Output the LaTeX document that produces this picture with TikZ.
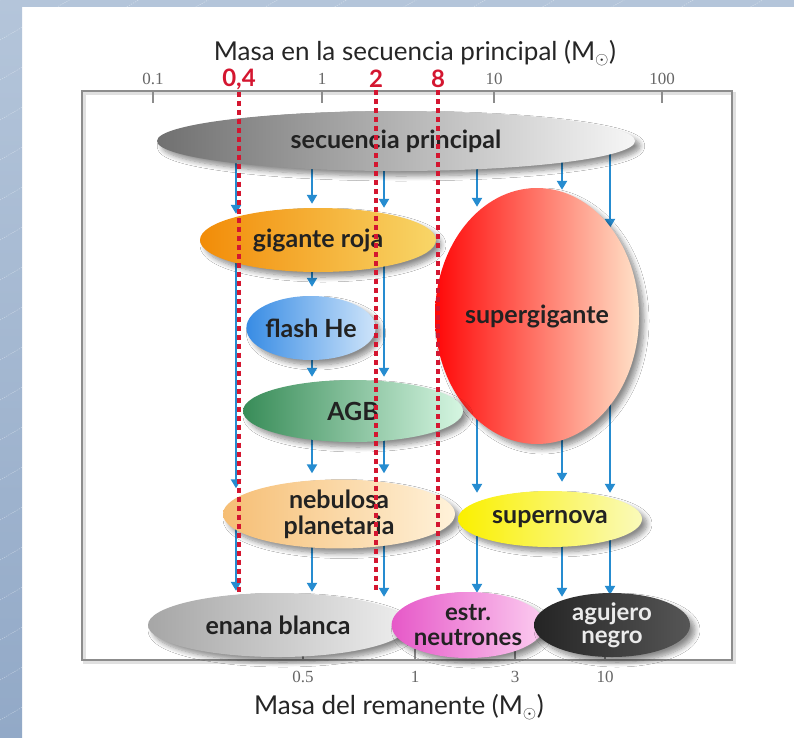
\documentclass[tikz,border=0pt]{standalone}
\usepackage{fontspec}
\setmainfont{Lato}
\newfontfamily\tickfont{Liberation Serif}
\usetikzlibrary{shapes.geometric,arrows.meta,calc,shadows.blur}
\pgfdeclarelayer{back}
\pgfsetlayers{back,main}
\definecolor{bgA}{RGB}{180,197,218}
\definecolor{bgB}{RGB}{146,169,199}
\definecolor{flowblue}{RGB}{38,140,208}
\definecolor{limred}{RGB}{212,22,48}
\definecolor{framegray}{RGB}{140,140,140}
\definecolor{txt}{RGB}{34,34,34}
\definecolor{spA}{RGB}{112,112,112}\definecolor{spB}{RGB}{246,246,246}
\definecolor{grA}{RGB}{242,140,8}\definecolor{grB}{RGB}{248,214,104}
\definecolor{sgA}{RGB}{255,8,8}\definecolor{sgB}{RGB}{255,226,200}
\definecolor{fhA}{RGB}{56,140,228}\definecolor{fhB}{RGB}{206,228,250}
\definecolor{agA}{RGB}{56,140,88}\definecolor{agB}{RGB}{214,246,226}
\definecolor{npA}{RGB}{246,190,116}\definecolor{npB}{RGB}{255,242,218}
\definecolor{snA}{RGB}{250,240,0}\definecolor{snB}{RGB}{250,250,186}
\definecolor{ebA}{RGB}{166,166,166}\definecolor{ebB}{RGB}{238,238,238}
\definecolor{nsA}{RGB}{230,88,200}\definecolor{nsB}{RGB}{252,204,240}
\definecolor{bhA}{RGB}{36,36,36}\definecolor{bhB}{RGB}{86,86,86}
\begin{document}
\begin{tikzpicture}[x=1pt,y=-1pt,
  phase/.style={ellipse, inner sep=0pt, align=center, text=txt,
    font=\fontsize{25}{26}\selectfont\bfseries,
    blur shadow={shadow xshift=5pt, shadow yshift=-5pt, shadow blur steps=8, shadow blur radius=5pt, shadow opacity=45}},
  flow/.style={draw=flowblue, line width=2.4pt, -{Triangle[width=10pt,length=9pt]}},
  limit/.style={draw=limred, line width=3.2pt, dash pattern=on 5pt off 4pt},
  ticklab/.style={font=\tickfont\fontsize{17}{19}\selectfont, text=black!60, inner sep=1pt},
  redlab/.style={font=\fontsize{24}{26}\selectfont\bfseries, text=limred, inner sep=0pt},
  axtitle/.style={font=\fontsize{26}{28}\selectfont, text=black!85, inner sep=0pt},
  tick/.style={draw=framegray, line width=1.6pt}]
\useasboundingbox (0,0) rectangle (794,737);

% ---------- stages ----------
\node[phase, minimum width=478pt, minimum height=60pt, left color=spA, right color=spB] (sp) at (396,141) {secuencia principal};
\node[phase, minimum width=236pt, minimum height=64pt, left color=grA, right color=grB] (gr) at (318,240) {gigante roja};
\node[phase, minimum width=204pt, minimum height=256pt, left color=sgA, right color=sgB] (sg) at (537,316) {supergigante};
\node[phase, minimum width=124pt, minimum height=64pt, left color=fhA, right color=fhB] (fh) at (311,328) {flash He};
\node[phase, minimum width=220pt, minimum height=62pt, left color=agA, right color=agB] (agb) at (353,411) {AGB};
\node[phase, minimum width=232pt, minimum height=60pt, left color=npA, right color=npB] (np) at (339,514) {nebulosa\\planetaria};
\node[phase, minimum width=184pt, minimum height=56pt, left color=snA, right color=snB] (sn) at (550,519) {supernova};
\node[phase, minimum width=260pt, minimum height=64pt, left color=ebA, right color=ebB] (eb) at (278,625) {enana blanca};
\node[phase, minimum width=144pt, minimum height=66pt, left color=nsA, right color=nsB, font=\fontsize{24}{25}\selectfont\bfseries] (ns) at (468,625) {estr.\\neutrones};
\node[phase, minimum width=156pt, minimum height=64pt, left color=bhA, right color=bhB, text=white!92!black, font=\fontsize{24}{23}\selectfont\bfseries] (bh) at (612,625) {agujero\\negro};

% ---------- axes, titles ----------
\node[axtitle] (ttop) at (415,53) {Masa en la secuencia principal (M$_\odot$)};
\node[axtitle] (tbot) at (399,707) {Masa del remanente (M$_\odot$)};
\foreach \x/\l in {153/0.1,322/1,494/10,662/100}
  \node[ticklab] (tt\x) at (\x,79) {\l};
\foreach \x/\l in {303/0.5,415/1,515/3,605/10}
  \node[ticklab] (tb\x) at (\x,677) {\l};
\node[redlab] (l1) at (239,79) {0,4};
\node[redlab] (l2) at (376,79) {2};
\node[redlab] (l3) at (438,79) {8};

\coordinate (c1) at (236,0);
\coordinate (c2) at (312,0);
\coordinate (c3) at (384,0);
\coordinate (c4) at (477,0);
\coordinate (c5) at (562,0);
\coordinate (c6) at (610,0);

\begin{pgfonlayer}{back}
  % slide background
  \fill[white] (0,0) rectangle (794,737);
  \shade[top color=bgA, bottom color=bgB] (0,0) rectangle (22,737);
  \fill[bgA] (0,0) rectangle (794,7);
  \begin{scope}
    \clip (0,0) rectangle (22,737) (0,0) rectangle (794,7);
    \foreach \k in {0,40,...,1200}
      \draw[white, opacity=.45, line width=.5pt, dash pattern=on 1.2pt off 1.2pt] (0,\k) -- (1300,\k-750);
  \end{scope}
  % frame and ticks
  \draw[black, opacity=.12, line width=3pt] (84,93) rectangle (734,662);
  \draw[framegray, line width=1.8pt] (82,91) rectangle (732,660);
  \foreach \x in {153,322,494,662} \draw[tick] (\x,91) -- (\x,103);
  \foreach \x in {303,415,515,605} \draw[tick] (\x,660) -- (\x,649);
  % evolution arrows
  \draw[flow] (c1 |- sp.center) -- ($(c1 |- gr.north)+(0,6)$);
  \draw[flow] (c1 |- gr.center) -- ($(c1 |- np.north)+(0,9)$);
  \draw[flow] (c1 |- np.center) -- ($(c1 |- eb.north)+(0,-2)$);
  \draw[flow] (c2 |- sp.center) -- ($(c2 |- gr.north)+(0,-4)$);
  \draw[flow] (c2 |- gr.center) -- ($(c2 |- fh.north)+(0,-9)$);
  \draw[flow] (c2 |- fh.center) -- ($(c2 |- agb.north)+(0,-3)$);
  \draw[flow] (c2 |- agb.center) -- ($(c2 |- np.north)+(0,-6)$);
  \draw[flow] (c2 |- np.center) -- ($(c2 |- eb.north)+(0,-1)$);
  \draw[flow] (c3 |- sp.center) -- ($(c3 |- gr.north)+(0,0)$);
  \draw[flow] (c3 |- gr.center) -- ($(c3 |- agb.north)+(0,-3)$);
  \draw[flow] (c3 |- agb.center) -- ($(c3 |- np.north)+(0,-6)$);
  \draw[flow] (c3 |- np.center) -- ($(c3 |- eb.north)+(0,4)$);
  \draw[flow] (c4 |- sp.center) -- ($(c4 |- sg.north)+(0,19)$);
  \draw[flow] (c4 |- sg.center) -- ($(c4 |- sn.north)+(0,2)$);
  \draw[flow] (c4 |- sn.center) -- ($(c4 |- ns.north)+(0,1)$);
  \draw[flow] (c5 |- sp.center) -- ($(c5 |- sg.north)+(0,2)$);
  \draw[flow] (c5 |- sg.center) -- ($(c5 |- sn.north)+(0,-9)$);
  \draw[flow] (c5 |- sn.center) -- ($(c5 |- bh.north)+(0,4)$);
  \draw[flow] (c6 |- sp.center) -- ($(c6 |- sg.north)+(0,40)$);
  \draw[flow] (c6 |- sg.center) -- ($(c6 |- sn.north)+(0,2)$);
  \draw[flow] (c6 |- sn.center) -- ($(c6 |- bh.north)+(0,2)$);
\end{pgfonlayer}

% ---------- mass limits ----------
\draw[limit] ([yshift=-2pt]l1.south) -- (l1.south |- eb.north);
\draw[limit] ([yshift=-2pt]l2.south) -- (l2.south |- eb.north);
\draw[limit] ([yshift=-2pt]l3.south) -- (l3.south |- ns.north);
\end{tikzpicture}
\end{document}
